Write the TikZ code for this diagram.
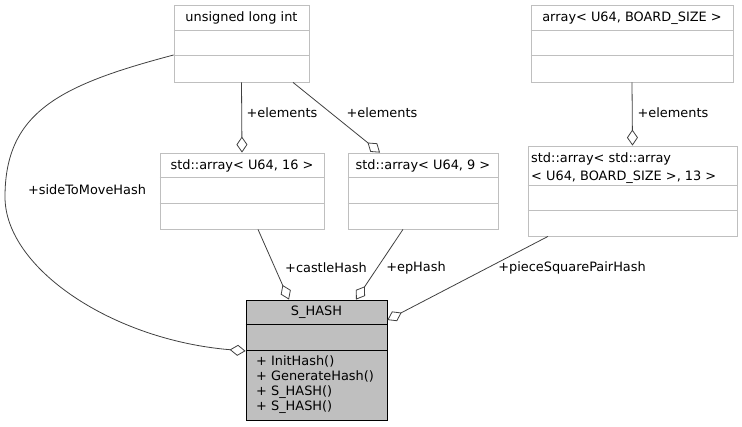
\documentclass[tikz,border=0pt]{standalone}
\usepackage{fontspec}
\setmainfont{DejaVu Sans}
\usetikzlibrary{arrows.meta,calc}
\definecolor{grey75}{HTML}{BFBFBF}
\definecolor{grey25}{HTML}{404040}
\tikzset{
  cls/.style={draw=grey75, fill=white, line width=0.8pt, rectangle, inner sep=0pt},
  clsmain/.style={draw=black, fill=grey75, line width=0.8pt, rectangle, inner sep=0pt},
  ttl/.style={inner sep=0pt, font=\fontsize{12.9}{17.5}\selectfont},
  lbl/.style={inner sep=0pt, font=\fontsize{12.9}{15}\selectfont},
  agg/.style={draw=grey25, line width=0.8pt, -{Diamond[open,length=16pt,width=11pt]}},
}
\begin{document}
\begin{tikzpicture}[x=1pt,y=-1pt]
\useasboundingbox (0,0) rectangle (742,427);
% class boxes
\node[cls, minimum width=135pt, minimum height=77pt] (uli) at (241.5,43.5) {};
\node[cls, minimum width=202pt, minimum height=77pt] (abs) at (632,43.5) {};
\node[cls, minimum width=164pt, minimum height=76pt] (arr16) at (242,191) {};
\node[cls, minimum width=150pt, minimum height=76pt] (arr9) at (423,191) {};
\node[cls, minimum width=209pt, minimum height=90pt] (std2) at (632.5,191) {};
\node[clsmain, minimum width=141pt, minimum height=120pt] (shash) at (316.5,360) {};
% dividers
\foreach \n/\a/\b in {uli/26/51, abs/26/51, arr16/25/51, arr9/25/51, std2/40/65}{
  \draw[draw=grey75, line width=0.8pt] ([yshift=-\a pt]\n.north west) -- ([yshift=-\a pt]\n.north east);
  \draw[draw=grey75, line width=0.8pt] ([yshift=-\b pt]\n.north west) -- ([yshift=-\b pt]\n.north east);
}
\draw[black, line width=0.8pt] ([yshift=-25pt]shash.north west) -- ([yshift=-25pt]shash.north east);
\draw[black, line width=0.8pt] ([yshift=-51pt]shash.north west) -- ([yshift=-51pt]shash.north east);
% titles
\node[ttl] (uli-t) at (241.5,18) {unsigned long int};
\node[ttl] (abs-t) at (632,18) {array< U64, BOARD\_SIZE >};
\node[ttl] (arr16-t) at (242,165.5) {std::array< U64, 16 >};
\node[ttl] (arr9-t) at (423,165.5) {std::array< U64, 9 >};
\node[ttl, align=left, anchor=west] (std2-t) at (531,168) {std::array< std::array\\< U64, BOARD\_SIZE >, 13 >};
\node[ttl] (shash-t) at (316.5,312.5) {S\_HASH};
\node[lbl, align=left, anchor=west] (shash-m) at (256,384.5) {+ InitHash()\\+ GenerateHash()\\+ S\_HASH()\\+ S\_HASH()};
% connectors
\draw[agg] (uli.south) -- (arr16.north);
\draw[agg] ([xshift=51.5pt]uli.south) -- ([xshift=-43pt]arr9.north);
\draw[agg] (abs.south) -- (std2.north);
\draw[agg] ([xshift=16pt]arr16.south) -- ([xshift=-27.5pt]shash.north);
\draw[agg] ([xshift=-20pt]arr9.south) -- ([xshift=39.5pt]shash.north);
\draw[agg] ([xshift=-84.5pt]std2.south) -- ([yshift=40pt]shash.east);
\coordinate (bend) at (5,197);
\draw[agg] ([yshift=-11.5pt]uli.west) .. controls (60,85) and (5,112) .. (bend)
   .. controls (5,268) and (112,340) .. ([yshift=9pt]shash.west);
% connector labels
\node[lbl] (l1) at (282,113) {+elements};
\node[lbl] (l2) at (382,113) {+elements};
\node[lbl] (l3) at (673,113) {+elements};
\node[lbl] (l4) at (326,268) {+castleHash};
\node[lbl] (l5) at (416,268) {+epHash};
\node[lbl] (l6) at (572,268) {+pieceSquarePairHash};
\node[lbl] (l7) at (87,190) {+sideToMoveHash};
\end{tikzpicture}
\end{document}
